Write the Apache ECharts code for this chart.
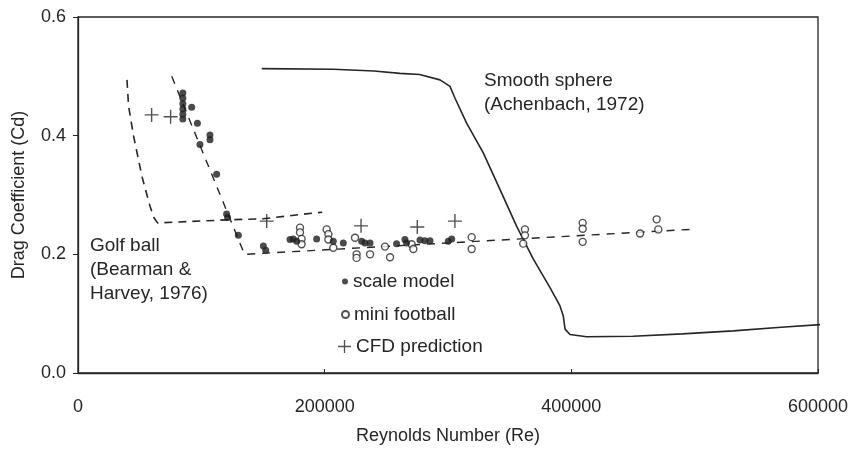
<!DOCTYPE html>
<html>
<head>
<meta charset="utf-8">
<script src="https://cdn.jsdelivr.net/npm/echarts@6/dist/echarts.min.js"></script>
<style>
  html, body { margin: 0; padding: 0; background: #fff; }
  #chart { width: 857px; height: 450px; }
</style>
</head>
<body>
<div id="chart"></div>
<script>
// Axis ticks
const xTicks = [0, 200000, 400000, 600000];
const yTicks = [0.0, 0.2, 0.4, 0.6];

// Smooth sphere reference curve (Achenbach, 1972): [Re, Cd]
const smoothSphere = [
  [149000, 0.513], [207000, 0.512], [240000, 0.509], [261000, 0.505],
  [277000, 0.503], [293500, 0.494], [301600, 0.483], [305700, 0.463],
  [315100, 0.421], [328600, 0.371], [342200, 0.309], [355700, 0.247],
  [369200, 0.192], [382700, 0.144], [390800, 0.113], [393500, 0.096],
  [394900, 0.074], [398900, 0.065], [412400, 0.061], [450000, 0.062],
  [490000, 0.066], [531300, 0.071], [570000, 0.077], [605000, 0.082]
];

// Golf ball reference curve (Bearman & Harvey, 1976)
const golfBall = [
  [39700, 0.494], [41000, 0.450], [45000, 0.400], [52000, 0.330],
  [58400, 0.281], [61500, 0.262], [64500, 0.253], [120000, 0.258],
  [150000, 0.260], [180000, 0.267], [198000, 0.271]
];

// Trend line through the measured data
const trendLine = [
  [76000, 0.500], [135000, 0.200], [496000, 0.242]
];

// Scale model measurements
const scaleModel = [
  [85000, 0.472], [85000, 0.463], [85000, 0.454], [85000, 0.445],
  [85000, 0.436], [85000, 0.428], [92200, 0.448], [96800, 0.421],
  [107000, 0.401], [107000, 0.393], [98900, 0.385], [112400, 0.335],
  [120500, 0.268], [121300, 0.262], [130000, 0.232], [150300, 0.214],
  [152200, 0.207], [171900, 0.225], [174600, 0.226], [177300, 0.222],
  [193500, 0.226], [207000, 0.222], [215100, 0.219], [230000, 0.222],
  [232700, 0.219], [236800, 0.219], [258300, 0.218], [265100, 0.225],
  [266400, 0.219], [277300, 0.224], [281300, 0.223], [285400, 0.223],
  [300200, 0.222], [303000, 0.226]
];

// Mini football measurements
const miniFootball = [
  [180000, 0.245], [180000, 0.237], [181300, 0.226], [181300, 0.217],
  [201600, 0.242], [203000, 0.234], [203000, 0.225], [207000, 0.211],
  [224600, 0.228], [225900, 0.200], [225900, 0.194], [236800, 0.200],
  [248900, 0.213], [253000, 0.195], [270500, 0.217], [271900, 0.209],
  [319200, 0.229], [319200, 0.209], [362400, 0.242], [362400, 0.232],
  [361000, 0.218], [409200, 0.253], [409200, 0.243], [409200, 0.221],
  [455700, 0.235], [469200, 0.259], [470500, 0.242]
];

// CFD predictions
const cfdPrediction = [
  [59700, 0.435], [75100, 0.432], [153000, 0.256],
  [229500, 0.248], [275100, 0.246], [305600, 0.256]
];

const INK = '#262626';
const FONT = '"Liberation Sans", Arial, sans-serif';
const PLUS = 'path://M4.5,0 H5.5 V4.5 H10 V5.5 H5.5 V10 H4.5 V5.5 H0 V4.5 H4.5 Z';

const chart = echarts.init(document.getElementById('chart'), null, { renderer: 'canvas' });

const legendText = { color: INK, fontSize: 19, fontFamily: FONT };

chart.setOption({
  backgroundColor: '#fff',
  animation: false,
  textStyle: { fontFamily: FONT, color: INK },
  grid: {
    left: 78, right: 39, top: 17, bottom: 76,
    show: true, borderColor: INK, borderWidth: 1.3, backgroundColor: 'transparent'
  },
  xAxis: {
    type: 'value', min: 0, max: 600000, interval: 200000,
    name: 'Reynolds Number (Re)', nameLocation: 'middle', nameGap: 54,
    nameTextStyle: { fontSize: 18, color: INK, fontFamily: FONT },
    axisLine: { show: true, lineStyle: { color: INK, width: 1.3 } },
    axisTick: { show: true, inside: true, length: 4, lineStyle: { color: INK } },
    splitLine: { show: false },
    axisLabel: {
      fontSize: 18, color: INK, margin: 25, fontFamily: FONT,
      formatter: v => xTicks.includes(v) ? String(v) : ''
    }
  },
  yAxis: {
    type: 'value', min: 0, max: 0.6, interval: 0.2,
    name: 'Drag Coefficient (Cd)', nameLocation: 'middle', nameGap: 50, nameRotate: 90,
    nameTextStyle: { fontSize: 18, color: INK, fontFamily: FONT },
    axisLine: { show: true, lineStyle: { color: INK, width: 1.3 } },
    axisTick: { show: true, length: 5, lineStyle: { color: INK } },
    splitLine: { show: false },
    axisLabel: {
      fontSize: 18, color: INK, margin: 12, fontFamily: FONT,
      formatter: v => yTicks.find(t => Math.abs(t - v) < 1e-9).toFixed(1)
    }
  },
  legend: [
    {
      left: 337, top: 267, itemWidth: 6, itemHeight: 6,
      data: [{ name: 'scale model', icon: 'circle' }], textStyle: legendText,
      selectedMode: false
    },
    {
      left: 336, top: 300, itemWidth: 7, itemHeight: 7,
      data: [{ name: 'mini football', icon: 'circle' }], textStyle: legendText,
      selectedMode: false
    },
    {
      left: 333, top: 332, itemWidth: 13, itemHeight: 13,
      data: [{ name: 'CFD prediction', icon: PLUS }], textStyle: legendText,
      selectedMode: false
    }
  ],
  graphic: [
    { type: 'text', left: 484, top: 69, style: { text: 'Smooth sphere\n(Achenbach, 1972)', fill: INK, font: '19px ' + FONT, lineHeight: 24 } },
    { type: 'text', left: 90, top: 234, style: { text: 'Golf ball\n(Bearman &\nHarvey, 1976)', fill: INK, font: '19px ' + FONT, lineHeight: 24 } }
  ],
  series: [
    {
      name: 'Smooth sphere', type: 'line', data: smoothSphere, symbol: 'none',
      lineStyle: { color: INK, width: 1.6 }, clip: true, z: 2
    },
    {
      name: 'Golf ball', type: 'line', data: golfBall, symbol: 'none',
      lineStyle: { color: INK, width: 1.6, type: [8, 6] }, z: 2
    },
    {
      name: 'trend', type: 'line', data: trendLine, symbol: 'none',
      lineStyle: { color: INK, width: 1.4, type: [8, 7] }, z: 2
    },
    {
      name: 'scale model', type: 'scatter', data: scaleModel, symbol: 'circle', symbolSize: 7,
      itemStyle: { color: '#1e1e1e' }, z: 4
    },
    {
      name: 'mini football', type: 'scatter', data: miniFootball, symbol: 'circle', symbolSize: 7,
      itemStyle: { color: '#fff', borderColor: INK, borderWidth: 1.4 }, z: 3
    },
    {
      name: 'CFD prediction', type: 'scatter', data: cfdPrediction, symbol: PLUS, symbolSize: 14,
      itemStyle: { color: INK }, z: 5
    }
  ]
});
</script>
</body>
</html>
